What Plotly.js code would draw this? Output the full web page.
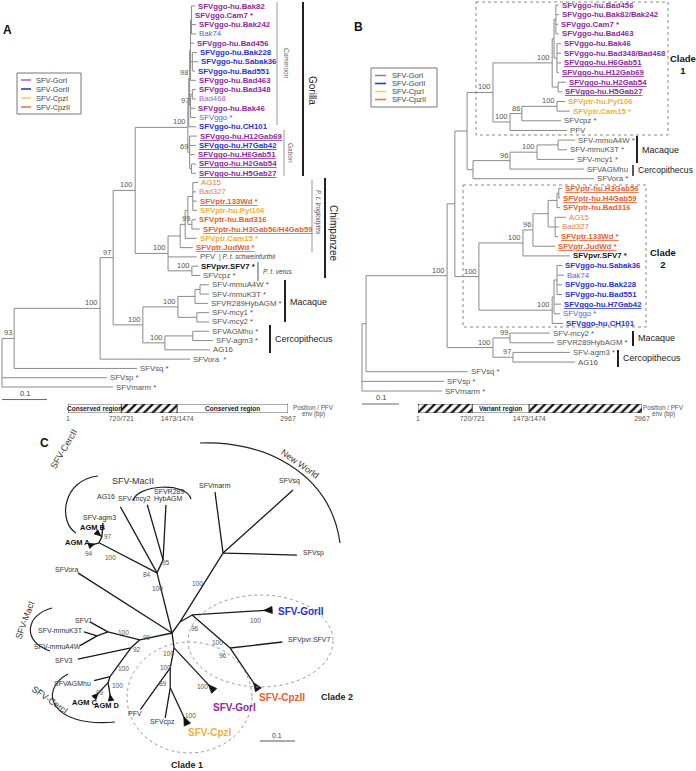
<!DOCTYPE html>
<html>
<head>
<meta charset="utf-8">
<script src="https://cdn.plot.ly/plotly-3.0.1.min.js"></script>
<style>html,body{margin:0;padding:0;background:#fff;}#chart{width:696px;height:771px;}</style>
</head>
<body>
<div id="chart"></div>
<script>
// ======================= DATA =======================
// ---- genotype legend ----
const genotypeNames = ['SFV-GorI','SFV-GorII','SFV-CpzI','SFV-CpzII'];
const genotypeKeys  = ['GorI','GorII','CpzI','CpzII'];

// ---- Panel A : full env tree (depth = distance from root, subst./site) ----
const A_leaf = ['SFVggo-hu.Bak82','SFVggo.Cam7 *','SFVggo-hu.Bak242','Bak74','SFVggo-hu.Bad456','SFVggo-hu.Bak228','SFVggo-hu.Sabak36','SFVggo-hu.Bad551','SFVggo-hu.Bad463','SFVggo-hu.Bad348','Bad468','SFVggo-hu.Bak46','SFVggo *','SFVggo-hu.CH101','SFVggo-hu.H12Gab69','SFVggo-hu.H7Gab42','SFVggo-hu.H6Gab51','SFVggo-hu.H2Gab54','SFVggo-hu.H5Gab27','AG15','Bad327','SFVptr.133Wd *','SFVptr-hu.Pyl106','SFVptr-hu.Bad316','SFVptr-hu.H3Gab56/H4Gab59','SFVptr.Cam15 *','SFVptr.JudWd *','PFV','SFVpvr.SFV7 *','SFVcpz *','SFV-mmuA4W *','SFV-mmuK3T *','SFVR289HybAGM *','SFV-mcy1 *','SFV-mcy2 *','SFVAGMhu *','SFV-agm3 *','AG16','SFVora  *','SFVsq *','SFVsp *','SFVmarm *'];
const A_leafDepth = [0.429,0.422,0.431,0.431,0.427,0.433,0.436,0.429,0.431,0.431,0.431,0.429,0.431,0.431,0.433,0.431,0.429,0.431,0.431,0.436,0.431,0.433,0.433,0.431,0.440,0.433,0.424,0.433,0.436,0.440,0.460,0.460,0.458,0.460,0.460,0.460,0.469,0.462,0.418,0.300,0.233,0.247];
const A_leafParent = ['gA1','gA1','gA1','gA1','gA','gA2','gA2','gA2','gA','gB1','gB1','g97','g97','gX','g69','g69','g69','gG2','gG2','tAG','tAG','tAG','tAG','t99','t99','tB','tA','chp','ver','ver','mmuIn','mmuIn','mmu','mcy','mcy','agm','agm','cer','n100a','n93','rA','rA'];
const A_leafGroup = ['GorI','GorI','GorI','GorII','GorI','GorII','GorII','GorII','GorI','GorI','GorI','GorI','GorII','GorII','GorI','GorII','GorI','GorI','GorI','CpzII','CpzII','CpzII','CpzI','CpzII','CpzII','CpzI','CpzII','none','SFV7','none','none','none','none','none','none','none','none','none','none','none','none','none'];
const A_leafType = ['new','new','new','ref','new','new','new','new','new','new','ref','new','ref','new','gab','gab','gab','gab','gab','ref','ref','gab','new','new','gab','new','gab','ref','new','ref','ref','ref','ref','ref','ref','ref','ref','ref','ref','ref','ref','ref'];
const A_node = ['rA','n93','n100a','n97','n100b','gor','gX','gY','gA','gA1','gA2','g97','gB1','g69','gG2','chp','tA','tB','tC','t99','tAG','ver','mon','mac','mmu','mmuIn','mcy','cer','agm'];
const A_nodeParent = [null,'rA','n93','n100a','n97','n100b','gor','gX','gY','gA','gA','gY','g97','gor','g69','n100b','chp','tA','tB','tC','tC','chp','n97','mon','mac','mmu','mac','mon','cer'];
const A_nodeDepth = [0,0.027,0.218,0.247,0.296,0.413,0.415,0.417,0.419,0.421,0.423,0.419,0.423,0.417,0.421,0.369,0.396,0.407,0.413,0.422,0.424,0.422,0.313,0.391,0.429,0.440,0.433,0.362,0.424];
const A_nodeBoot = ['','93','100','97','100','100','','98','','','','97','','69','','100','','','','99','','100','100','100','','','','100',''];

// ---- Panel B : variant-region tree ----
const B_leaf = ['SFVggo-hu.Bad456','SFVggo-hu.Bak82/Bak242','SFVggo.Cam7 *','SFVggo-hu.Bad463','SFVggo-hu.Bak46','SFVggo-hu.Bad348/Bad468','SFVggo-hu.H6Gab51','SFVggo-hu.H12Gab69','SFVggo-hu.H2Gab54','SFVggo-hu.H5Gab27','SFVptr-hu.Pyl106','SFVptr.Cam15 *','SFVcpz *','PFV','SFV-mmuA4W *','SFV-mmuK3T *','SFV-mcy1 *','SFVAGMhu','SFVora *','SFVptr-hu.H3Gab56','SFVptr-hu.H4Gab59','SFVptr-hu.Bad316','AG15','Bad327','SFVptr.133Wd *','SFVptr.JudWd *','SFVpvr.SFV7 *','SFVggo-hu.Sabak36','Bak74','SFVggo-hu.Bak228','SFVggo-hu.Bad551','SFVggo-hu.H7Gab42','SFVggo *','SFVggo-hu.CH101','SFV-mcy2 *','SFVR289HybAGM *','SFV-agm3 *','AG16','SFVsq *','SFVsp *','SFVmarm *'];
const B_leafDepth = [0.532,0.532,0.530,0.532,0.538,0.538,0.538,0.532,0.551,0.541,0.549,0.562,0.538,0.554,0.576,0.554,0.573,0.600,0.627,0.541,0.535,0.535,0.551,0.532,0.530,0.522,0.562,0.541,0.546,0.541,0.541,0.538,0.535,0.543,0.508,0.519,0.562,0.576,0.286,0.222,0.216];
const B_leafParent = ['gA','gA','gA','gA','gB','gB','gB','gB','gC','gC','cpzI','cpzI','c86','cpzB','mmuB','mmuB','mac1','m96','mon1','cZ1a','cZ1a','cZ1','cZ2','cZ2','cZ2','c96','x100','gIIa','gIIa','gIIa','gIIa','gIIx','gIIx','gorII','m99','m99','m97','m97','b1','rB','rB'];
const B_leafGroup = ['GorI','GorI','GorI','GorI','GorI','GorI','GorI','GorI','GorI','GorI','CpzI','CpzI','none','none','none','none','none','none','none','CpzII','CpzII','CpzII','CpzII','CpzII','CpzII','CpzII','SFV7','GorII','GorII','GorII','GorII','GorII','GorII','GorII','none','none','none','none','none','none','none'];
const B_leafType = ['new','new','new','new','new','new','gab','gab','gab','gab','new','new','ref','ref','ref','ref','ref','ref','ref','gab','gab','new','ref','ref','gab','gab','new','new','ref','new','new','gab','ref','new','ref','ref','ref','ref','ref','ref','ref'];
const B_node = ['rB','b1','b100','b2','b3','c1','gorB','gAB','gA','gB','gC','cpzB','c86','cpzI','mon1','m96','mac1','mmuB','c2','x100','c96','cY','cZ1','cZ1a','cZ2','gorII','gIIx','gIIa','mon2','m99','m97'];
const B_nodeParent = [null,'rB','b1','b100','b2','b3','c1','gorB','gAB','gAB','gorB','c1','cpzB','c86','b3','mon1','m96','mac1','b2','c2','x100','c96','cY','cZ1','cY','c2','gorII','gIIx','b100','mon2','mon2'];
const B_nodeDepth = [0,0.011,0.230,0.251,0.284,0.354,0.514,0.519,0.524,0.527,0.530,0.400,0.432,0.527,0.300,0.400,0.473,0.530,0.316,0.435,0.462,0.503,0.527,0.532,0.522,0.514,0.519,0.527,0.354,0.400,0.408];
const B_nodeBoot = ['','','100','','','100','100','','','','','100','86','100','','96','100','','100','100','96','','','','','100','','','100','99','97'];

// ---- Panel C : unrooted tree (branch length, drawing angle in degrees) ----
const C_child  = ['H1','NW','SFVmarm','SFVsq','SFVsp','C2','SFV-GorII','C2b','SFVpvr.SFV7','SFV-CpzII','SFVora','U','AG16','N95','SFV-mcy2','SFVR289HybAGM','AB','AGM A','ABn','AGM B','SFV-agm3','N99','MacI','SFV1','mmuN','SFV-mmuK3T','SFV-mmuA4W','N92','SFV3','AGMn','SFVAGMhu','AGMcd','AGM C','AGM D','C1a','SFV-GorI','C1b','PFV','C1c','SFVcpz','SFV-CpzI'];
const C_parent = ['H2','H1','NW','NW','NW','H1','C2','C2','C2b','C2b','H2','H2','U','U','N95','N95','U','AB','AB','ABn','ABn','H2','N99','MacI','MacI','mmuN','mmuN','N99','N92','N92','AGMn','AGMn','AGMcd','AGMcd','H2','C1a','C1a','C1b','C1b','C1c','C1c'];
const C_length = [0.039,0.232,0.176,0.269,0.211,0.040,0.229,0.144,0.150,0.144,0.319,0.177,0.216,0.041,0.164,0.157,0.187,0.030,0.019,0.022,0.040,0.094,0.094,0.059,0.033,0.039,0.056,0.034,0.155,0.102,0.047,0.018,0.059,0.052,0.043,0.168,0.058,0.147,0.057,0.087,0.116];
const C_angle  = [54,58,97.5,42,-1.5,30,3.6,-41,6.6,-56,147.4,104,119,65,106,87,152.6,197,63,140,86,192,166,151,200,163,210,222,192,234,194,252,227,-80.5,-82,-47,-101,234.5,-90,260.5,-65];
const C_collapsed = ['SFV-GorII','SFV-CpzII','SFV-GorI','SFV-CpzI','AGM A','AGM B','AGM C','AGM D'];

// ---- env gene map (positions on PFV env, bp) ----
const regionBounds = [1, 720.5, 1473.5, 2967];
const A_regionHatched = [false, true, false];
const A_regionLabel = ['Conserved region', '', 'Conserved region'];
const B_regionHatched = [true, false, true];
const B_regionLabel = ['', 'Variant region', ''];
const genomeTickVals = [1, 720.5, 1473.5, 2967];
const genomeTickText = ['1', '720/721', '1473/1474', '2967'];
const scaleLength = 0.1;

// ======================= STYLE / RENDER =======================
const FONT = '"Liberation Sans", Arial, Helvetica, sans-serif';
const STRONG = {GorI:'#8E2A9B', GorII:'#2A32CF', CpzI:'#EFB038', CpzII:'#E5612E', SFV7:'#111111', none:'#4d4d4d'};
const LIGHT  = {GorI:'#A565BA', GorII:'#5463D6', CpzI:'#F2BE55', CpzII:'#EC7B52', SFV7:'#111111', none:'#555555'};
const LEG    = {GorI:'#B46BC5', GorII:'#2B3AC7', CpzI:'#F3CF61', CpzII:'#EE7B3E'};
const LEAF_SIZE = 7.8, BRACKET_SIZE = 9, CLAB = 7;

const shapes = [], annotations = [], traces = [];
function fl(x0,y0,x1,y1,color,width,dash){ shapes.push({type:'line',xref:'x',yref:'y',x0,y0,x1,y1,line:{color:color||'#222',width:width||1,dash:dash||'solid'}}); }
function fr(x0,y0,x1,y1,color,width,dash){ shapes.push({type:'rect',xref:'x',yref:'y',x0,y0,x1,y1,line:{color,width,dash:dash||'solid'},fillcolor:'rgba(0,0,0,0)'}); }
function fp(d,color,width){ shapes.push({type:'path',xref:'x',yref:'y',path:d,line:{color:color||'#222',width:width||1.2}}); }
function ft(x,y,text,o){ o=o||{}; annotations.push({xref:o.xref||'x',yref:o.yref||'y',x,y,text,showarrow:false,
  xanchor:o.xa||'center',yanchor:o.ya||'middle',xshift:o.xs||0,yshift:o.ys||0,textangle:o.rot||0,borderpad:0,
  font:{family:FONT,size:o.size||8,color:o.color||'#333'}}); }

function fmt(name,type){ if(type==='gab') return '<b><u>'+name+'</u></b>'; if(type==='new') return '<b>'+name+'</b>'; return name; }

function buildRect(leaves,lParent,lDepth,nodes,nParent,nDepth){
  const depth={}, yy={}, kids={};
  nodes.forEach((n,i)=>{depth[n]=nDepth[i]; kids[n]=[];});
  leaves.forEach((l,i)=>{const id='#'+i; depth[id]=lDepth[i]; yy[id]=i; kids[lParent[i]].push(id);});
  nodes.forEach((n,i)=>{ if(nParent[i]!==null) kids[nParent[i]].push(n); });
  const gy = n => { if(yy[n]===undefined){ const ys=kids[n].map(gy); yy[n]=(Math.min(...ys)+Math.max(...ys))/2; } return yy[n]; };
  const xs=[], ys=[];
  nodes.forEach(n=>{ gy(n); const cy=kids[n].map(gy);
    xs.push(depth[n],depth[n],null); ys.push(Math.min(...cy),Math.max(...cy),null);
    kids[n].forEach(c=>{ xs.push(depth[n],depth[c],null); ys.push(yy[c],yy[c],null); });
  });
  return {xs,ys,depth,yy};
}

function drawRectTree(ax, ay, leaves,lParent,lDepth,lGroup,lType,nodes,nParent,nDepth,nBoot){
  const T = buildRect(leaves,lParent,lDepth,nodes,nParent,nDepth);
  traces.push({type:'scatter',mode:'lines',x:T.xs,y:T.ys,xaxis:ax,yaxis:ay,line:{color:'#8a8a8a',width:1},hoverinfo:'skip',showlegend:false});
  leaves.forEach((l,i)=>{
    const col = lType[i]==='ref' ? LIGHT[lGroup[i]] : STRONG[lGroup[i]];
    ft(lDepth[i], i, fmt(l,lType[i]), {xref:ax, yref:ay, xa:'left', xs:2, size:LEAF_SIZE, color:col});
  });
  nodes.forEach((n,i)=>{ if(nBoot[i]) ft(nDepth[i], T.yy[n], nBoot[i], {xref:ax,yref:ay,xa:'right',ya:'bottom',xs:-1,ys:0,size:7.5,color:'#555'}); });
  // scale bar
  const sy = leaves.length + 0.35;
  traces.push({type:'scatter',mode:'lines',x:[0,scaleLength],y:[sy,sy],xaxis:ax,yaxis:ay,line:{color:'#666',width:1},hoverinfo:'skip',showlegend:false});
  ft(scaleLength/2, sy, String(scaleLength), {xref:ax,yref:ay,ya:'bottom',ys:1,size:7.5,color:'#444'});
}

drawRectTree('x2','y2',A_leaf,A_leafParent,A_leafDepth,A_leafGroup,A_leafType,A_node,A_nodeParent,A_nodeDepth,A_nodeBoot);
drawRectTree('x3','y3',B_leaf,B_leafParent,B_leafDepth,B_leafGroup,B_leafType,B_node,B_nodeParent,B_nodeDepth,B_nodeBoot);

// ---- Panel C unrooted tree ----
const cpos = {H2:[0,0]}, cang = {};
const cx=[], cy=[];
C_child.forEach((c,i)=>{
  const p = cpos[C_parent[i]], a = C_angle[i]*Math.PI/180;
  cpos[c] = [p[0]+C_length[i]*Math.cos(a), p[1]+C_length[i]*Math.sin(a)];
  cang[c] = a;
  cx.push(p[0],cpos[c][0],null); cy.push(p[1],cpos[c][1],null);
});
traces.push({type:'scatter',mode:'lines',x:cx,y:cy,xaxis:'x4',yaxis:'y4',line:{color:'#1a1a1a',width:1.3},hoverinfo:'skip',showlegend:false});
C_collapsed.forEach(c=>{
  const small = c.indexOf('AGM')===0;
  const L = small?0.017:0.024, h = small?0.008:0.010;
  const a=cang[c], t=cpos[c], u=[Math.cos(a),Math.sin(a)], q=[-Math.sin(a),Math.cos(a)];
  traces.push({type:'scatter',mode:'lines',fill:'toself',fillcolor:'#111',line:{color:'#111',width:0.8},
    x:[t[0]-L*u[0], t[0]+h*q[0], t[0]-h*q[0], t[0]-L*u[0]],
    y:[t[1]-L*u[1], t[1]+h*q[1], t[1]-h*q[1], t[1]-L*u[1]],
    xaxis:'x4',yaxis:'y4',hoverinfo:'skip',showlegend:false});
});
// C scale bar
traces.push({type:'scatter',mode:'lines',x:[0.2514,0.2514+scaleLength],y:[-0.3086,-0.3086],xaxis:'x4',yaxis:'y4',line:{color:'#555',width:1},hoverinfo:'skip',showlegend:false});
ft(0.2514+scaleLength/2,-0.3086,String(scaleLength),{xref:'x4',yref:'y4',ya:'bottom',ys:1,size:7,color:'#444'});

// ---- genome maps ----
function genomeBar(ax,ay,hatched,labels){
  const base = regionBounds.slice(0,-1), w = base.map((b,i)=>regionBounds[i+1]-b);
  traces.push({type:'bar',orientation:'h',xaxis:ax,yaxis:ay,y:base.map(()=>0),base:base,x:w,width:1,
    marker:{color:'#ffffff',line:{color:'#333',width:0.8},
      pattern:{shape:hatched.map(h=>h?'/':''),fgcolor:'#111',bgcolor:'#ffffff',size:6,solidity:0.38,fillmode:'replace'}},
    hoverinfo:'skip',showlegend:false});
  labels.forEach((t,i)=>{ if(t) ft(base[i]+w[i]/2,0,'<b>'+t+'</b>',{xref:ax,yref:ay,size:6.5,color:'#222'}); });
}
genomeBar('x5','y5',A_regionHatched,A_regionLabel);
genomeBar('x6','y6',B_regionHatched,B_regionLabel);

// ---- legends ----
function legendBox(x0,y0,x1,y1,ys,lx0,lx1,tx){
  fr(x0,y0,x1,y1,'#777',1);
  genotypeKeys.forEach((k,i)=>{ fl(lx0,ys[i],lx1,ys[i],LEG[k],1.6); ft(tx,ys[i],genotypeNames[i],{xa:'left',size:7.5,color:'#444'}); });
}
legendBox(17,73,81,114,[80,89,98,107],21,31,35);
legendBox(371,68,437,107,[75.5,83.5,91.5,99.5],375,386,391);

// ---- panel letters ----
ft(7,30,'<b>A</b>',{size:12,color:'#111'});
ft(358,27,'<b>B</b>',{size:12,color:'#111'});
ft(44,443,'<b>C</b>',{size:12,color:'#111'});

// ---- panel A brackets ----
fl(277,2,277,125,'#999',1); ft(287,63,'Cameroon',{rot:90,size:6.5,color:'#666'});
fl(284,130,284,176,'#999',1); ft(291,153,'Gabon',{rot:90,size:6.5,color:'#666'});
fl(303,2,303,176,'#222',2); ft(313,90,'Gorilla',{rot:90,size:10,color:'#222'});
fl(312,180,312,252,'#999',1); ft(318,212,'<i>P. t. troglodytes</i>',{rot:90,size:6.5,color:'#555'});
fl(325,178,325,278,'#222',2); ft(334,233,'Chimpanzee',{rot:90,size:10,color:'#222'});
ft(218,257,'| <i>P. t. schweinfurthii</i>',{xa:'left',size:6.6,color:'#444'});
fl(258,262,258,281,'#555',1); ft(262,271,'<i>P. t. verus</i>',{xa:'left',size:6.6,color:'#444'});
fl(285,280,285,322,'#222',2); ft(289,302,'Macaque',{xa:'left',size:BRACKET_SIZE,color:'#222'});
fl(270,325,270,353,'#222',2); ft(274,339,'Cercopithecus',{xa:'left',size:BRACKET_SIZE,color:'#222'});
ft(313,407,'Position / PFV',{size:6.3,color:'#555'}); ft(313,414,'env (bp)',{size:6.3,color:'#555'});

// ---- panel B brackets ----
fr(476,2,668,135,'#888',1,'dot');
fr(463,185,646,327,'#888',1,'dot');
ft(683,64,'<b>Clade<br>1</b>',{size:9.5,color:'#111'});
ft(663,258,'<b>Clade<br>2</b>',{size:9.5,color:'#111'});
fl(637,136,637,163,'#222',2); ft(641,150,'Macaque',{xa:'left',size:BRACKET_SIZE,color:'#222'});
fl(633,165,633,176,'#222',1.5); ft(637,170,'Cercopithecus',{xa:'left',size:8.6,color:'#222'});
fl(633,331,633,346,'#222',2); ft(637,338,'Macaque',{xa:'left',size:BRACKET_SIZE,color:'#222'});
fl(618,350,618,367,'#222',2); ft(622,358,'Cercopithecus',{xa:'left',size:BRACKET_SIZE,color:'#222'});
ft(663,407,'Position / PFV',{size:6.3,color:'#555'}); ft(663,414,'env (bp)',{size:6.3,color:'#555'});

// ---- panel C decorations ----
shapes.push({type:'circle',xref:'x',yref:'y',x0:188,x1:333,y0:595,y1:687,line:{color:'#999',width:1,dash:'dot'}});
shapes.push({type:'circle',xref:'x',yref:'y',x0:127,x1:252,y0:642,y1:753,line:{color:'#999',width:1,dash:'dot'}});
fp('M 200 443 C 260 440 330 470 340 543');
fp('M 133 501 C 136 485 186 481 191 499');
fp('M 98 476 C 62 480 58 522 76 533');
fp('M 52 608 C 25 615 22 642 50 651');
fp('M 68 674 C 38 690 50 728 115 722');
ft(300,464,'New World',{rot:35,size:9,color:'#333'});
ft(133,481,'SFV-MacII',{size:9,color:'#333'});
ft(64,449,'SFV-CercII',{rot:-60,size:9,color:'#333'});
ft(25,620,'SFV-MacI',{rot:-70,size:9,color:'#333'});
ft(50,700,'SFV-CercI',{rot:35,size:9,color:'#333'});
const cLab = [
  ['SFVmarm',215,485,'center'],['SFVsq',289,481,'center'],['SFVsp',302,553,'left'],
  ['SFVR289',153,491,'left'],['HybAGM',153,499,'left'],['SFV-mcy2',151,499,'right'],
  ['AG16',106,496,'center'],['SFV-agm3',99,518,'center'],['SFVora',66,569,'center'],
  ['SFV1',84,620,'center'],['SFV-mmuK3T',60,630,'center'],['SFV-mmuA4W',57,646,'center'],
  ['SFV3',64,660,'center'],['SFVAGMhu',72,683,'center'],['PFV',135,713,'center'],
  ['SFVcpz',162,722,'center'],['SFVpvr.SFV7',287,640,'left']];
cLab.forEach(l=>ft(l[1],l[2],l[0],{xa:l[3],size:CLAB,color:'#333'}));
[['AGM B',93,527,'center'],['AGM A',91,542,'right'],['AGM C',85,702,'center'],['AGM D',107,705,'center']]
  .forEach(l=>ft(l[1],l[2],'<b>'+l[0]+'</b>',{xa:l[3],size:7.5,color:'#111'}));
ft(277,611,'<b>SFV-GorII</b>',{xa:'left',size:10,color:STRONG.GorII});
ft(258,697,'<b>SFV-CpzII</b>',{xa:'left',size:10,color:STRONG.CpzII});
ft(212,707,'<b>SFV-GorI</b>',{xa:'left',size:10,color:STRONG.GorI});
ft(187,732,'<b>SFV-CpzI</b>',{xa:'left',size:10,color:STRONG.CpzI});
ft(320,697,'<b>Clade 2</b>',{xa:'left',size:9,color:'#222'});
ft(187,765,'<b>Clade 1</b>',{size:9,color:'#222'});
[['100',197,583],['100',255,620],['96',195,628],['100',217,642],['96',223,655],['99',147,637],['100',123,632],
 ['92',137,649],['100',123,668],['99',100,692],['100',117,685],['100',168,653],['100',165,667],['89',163,683],
 ['100',190,715],['100',202,686],['97',108,536],['94',89,553],['100',110,557],['84',147,574],['95',166,562],['100',157,588]]
  .forEach(l=>ft(l[1],l[2],l[0],{size:6.5,color:'#555'}));

// dummy on frame axes
traces.push({type:'scatter',mode:'markers',x:[null],y:[null],xaxis:'x',yaxis:'y',hoverinfo:'skip',showlegend:false});

const hid = {visible:false,showgrid:false,zeroline:false};
const layout = {
  width:696,height:771,margin:{l:0,r:0,t:0,b:0},paper_bgcolor:'#fff',plot_bgcolor:'rgba(0,0,0,0)',
  showlegend:false,barmode:'overlay',font:{family:FONT},
  xaxis:Object.assign({range:[0,696],domain:[0,1]},hid),
  yaxis:Object.assign({range:[771,0],domain:[0,1]},hid),
  xaxis2:Object.assign({range:[-2/450,694/450],overlaying:'x',anchor:'y2'},hid),
  yaxis2:Object.assign({range:[765/9.293,-6/9.293],overlaying:'y',anchor:'x2'},hid),
  xaxis3:Object.assign({range:[-362/370,334/370],overlaying:'x',anchor:'y3'},hid),
  yaxis3:Object.assign({range:[766/9.65,-5/9.65],overlaying:'y',anchor:'x3'},hid),
  xaxis4:Object.assign({range:[-172/350,524/350],overlaying:'x',anchor:'y4'},hid),
  yaxis4:Object.assign({range:[-138/350,633/350],overlaying:'y',anchor:'x4'},hid),
  xaxis5:{domain:[68/696,288/696],range:[1,2967],anchor:'y5',showgrid:false,zeroline:false,showline:false,ticks:'',
    tickvals:genomeTickVals,ticktext:genomeTickText,tickfont:{family:FONT,size:7,color:'#555'}},
  yaxis5:Object.assign({domain:[1-413/771,1-404/771],range:[-0.5,0.5],anchor:'x5'},hid),
  xaxis6:{domain:[418/696,642/696],range:[1,2967],anchor:'y6',showgrid:false,zeroline:false,showline:false,ticks:'',
    tickvals:genomeTickVals,ticktext:genomeTickText,tickfont:{family:FONT,size:7,color:'#555'}},
  yaxis6:Object.assign({domain:[1-413/771,1-404/771],range:[-0.5,0.5],anchor:'x6'},hid),
  shapes:shapes, annotations:annotations
};
Plotly.newPlot('chart',traces,layout,{staticPlot:true,displayModeBar:false});
</script>
</body>
</html>
